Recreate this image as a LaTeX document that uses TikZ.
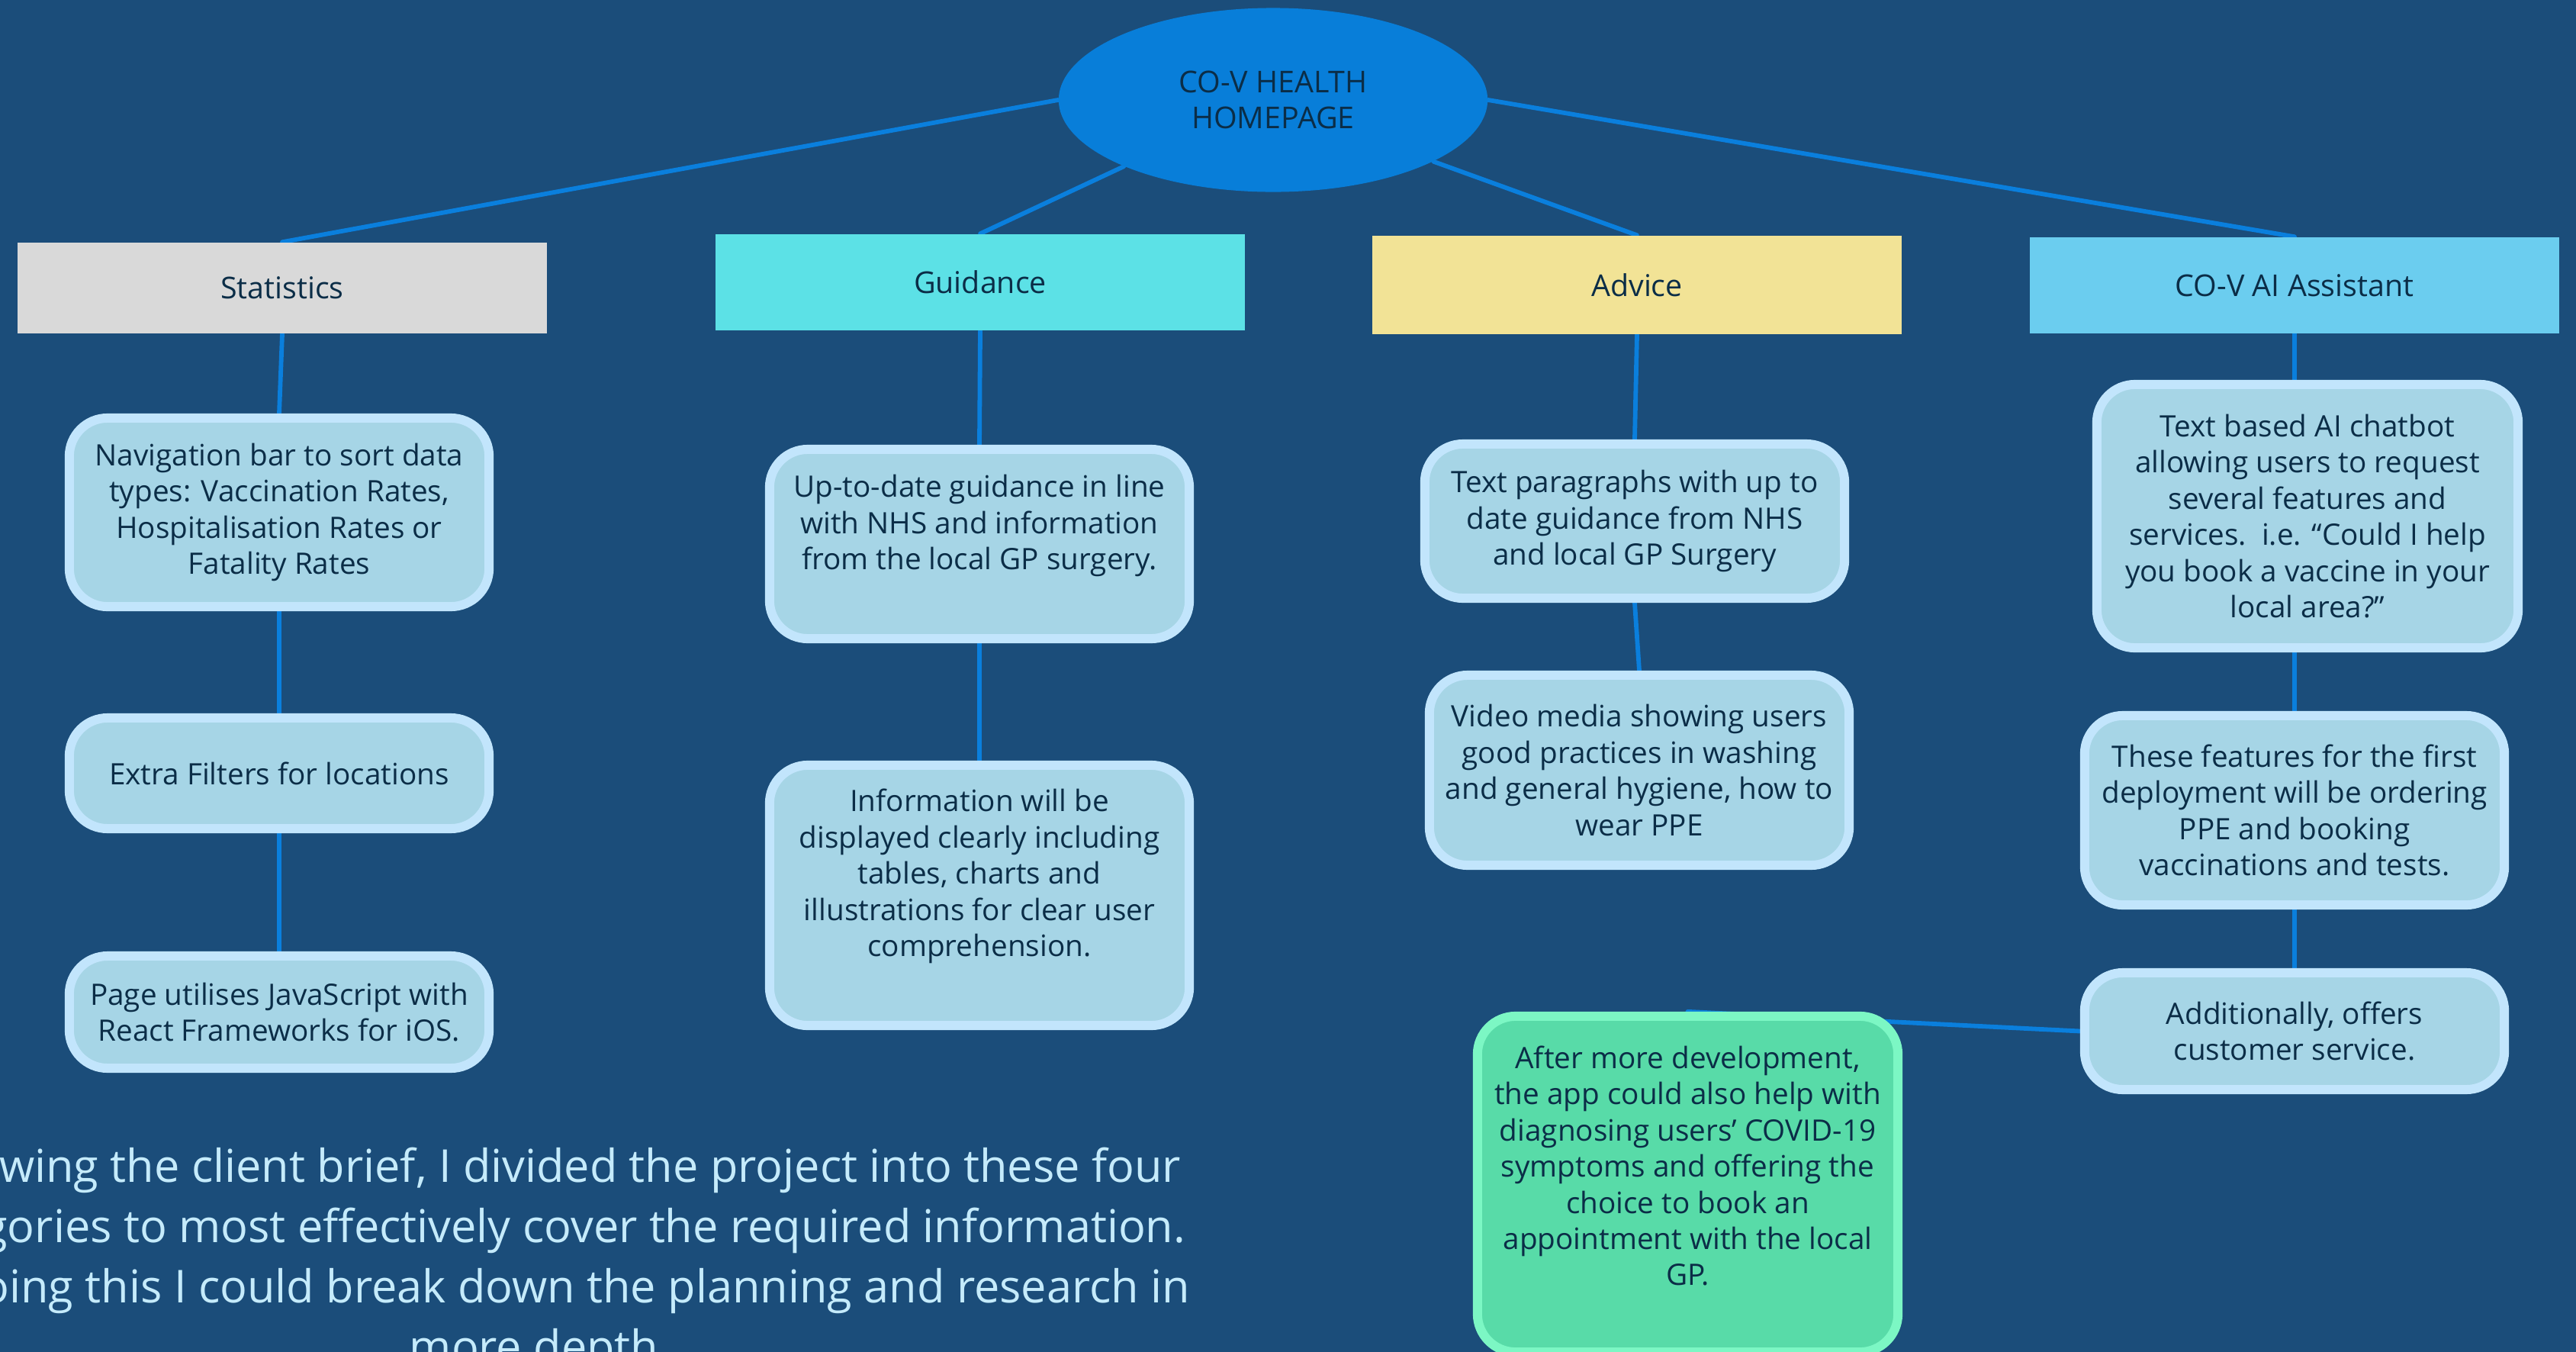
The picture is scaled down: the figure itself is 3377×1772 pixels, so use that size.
\documentclass[tikz,border=0pt]{standalone}
\usepackage{fontspec}
\setmainfont{Open Sans}
\usetikzlibrary{shapes.geometric,calc}
\definecolor{bgc}{HTML}{1B4D7A}
\definecolor{ellfill}{HTML}{087ED9}
\definecolor{linec}{HTML}{0A7FDD}
\definecolor{ink}{HTML}{0B2D47}
\definecolor{statc}{HTML}{D9D9D9}
\definecolor{guidc}{HTML}{5CE1E6}
\definecolor{advc}{HTML}{F2E396}
\definecolor{aic}{HTML}{6BCDEF}
\definecolor{cfill}{HTML}{A6D5E6}
\definecolor{cbord}{HTML}{C2E5FC}
\definecolor{gfill}{HTML}{58DBA8}
\definecolor{gbord}{HTML}{7CF7C4}
\definecolor{btc}{HTML}{C5EBFB}
\pgfdeclarelayer{bgl}
\pgfdeclarelayer{lines}
\pgfsetlayers{bgl,lines,main}
\begin{document}
\begin{tikzpicture}[x=0.01cm,y=-0.01cm,
  head/.style={rectangle, inner sep=0, minimum width=6.94cm, text=ink,
    font=\fontsize{11.2}{13.5}\selectfont},
  cbox/.style={rectangle, rounded corners=0.5cm, draw=cbord, fill=cfill,
    line width=0.12cm, inner sep=0, text=ink, align=center,
    minimum width=5.50cm, font=\fontsize{11}{13.5}\selectfont},
  gbox/.style={cbox, draw=gbord, fill=gfill},
  btext/.style={text=ink, align=center, inner sep=0, font=\fontsize{11}{13.5}\selectfont},
  conn/.style={line width=0.058cm, draw=linec, line cap=round},
  para/.style={text=btc, inner sep=0, font=\fontsize{16.9}{22.5}\selectfont}
]
\begin{pgfonlayer}{bgl}
\fill[bgc] (0,0) rectangle (3377,1772);
\end{pgfonlayer}
\useasboundingbox (0,0) rectangle (3377,1772);
\clip (0,0) rectangle (3377,1772);

% root
\node[ellipse, fill=ellfill, minimum width=5.62cm, minimum height=2.41cm,
  inner sep=0, align=center, text=ink, font=\fontsize{11.2}{13.4}\selectfont]
  (home) at (1669,131) {CO-V HEALTH\\HOMEPAGE};

% headers
\node[head, fill=statc, minimum height=1.19cm] (stat) at (370,377.5) {Statistics};
\node[head, fill=guidc, minimum height=1.26cm] (guid) at (1285,370) {Guidance};
\node[head, fill=advc, minimum height=1.29cm] (adv) at (2146,373.5) {Advice};
\node[head, fill=aic, minimum height=1.26cm] (aih) at (3008,374) {CO-V AI Assistant};

% statistics column
\node[cbox, minimum height=2.47cm] (s1) at (366,671.5)
  {Navigation bar to sort data\\types: Vaccination Rates,\\Hospitalisation Rates or\\Fatality Rates};
\node[cbox, minimum height=1.45cm] (s2) at (366,1013.5) {Extra Filters for locations};
\node[cbox, minimum height=1.47cm] (s3) at (366,1326.5)
  {Page utilises JavaScript with\\React Frameworks for iOS.};

% guidance column
\node[cbox, minimum height=2.48cm] (g1) at (1284,713) {};
\node[btext] (g1t) at ([yshift=0.24cm]g1.center)
  {Up-to-date guidance in line\\with NHS and information\\from the local GP surgery.};
\node[cbox, minimum height=3.41cm] (g2) at (1284,1173.5) {};
\node[btext] (g2t) at ([yshift=0.25cm]g2.center)
  {Information will be\\displayed clearly including\\tables, charts and\\illustrations for clear user\\comprehension.};

% advice column
\node[cbox, minimum height=2.02cm] (a1) at (2143,683)
  {Text paragraphs with up to\\date guidance from NHS\\and local GP Surgery};
\node[cbox, minimum height=2.49cm] (a2) at (2149,1009.5)
  {Video media showing users\\good practices in washing\\and general hygiene, how to\\wear PPE};

% AI column
\node[cbox, minimum width=5.52cm, minimum height=3.45cm] (c1) at (3025,676.5)
  {Text based AI chatbot\\allowing users to request\\several features and\\services.\ \ i.e. “Could I help\\you book a vaccine in your\\local area?”};
\node[cbox, minimum height=2.48cm] (c2) at (3008,1062)
  {These features for the first\\deployment will be ordering\\PPE and booking\\vaccinations and tests.};
\node[cbox, minimum height=1.53cm] (c3) at (3008,1351.5)
  {Additionally, offers\\customer service.};
\node[gbox, minimum width=5.51cm, minimum height=4.40cm] (gr) at (2212.5,1552) {};
\node[btext] (grt) at ([yshift=0.24cm]gr.center)
  {After more development,\\the app could also help with\\diagnosing users’ COVID-19\\symptoms and offering the\\choice to book an\\appointment with the local\\GP.};

% paragraph
\node[para, anchor=base] (p1) at (708,1549) {Following the client brief, I divided the project into these four};
\node[para, anchor=base] (p2) at (708,1628) {categories to most effectively cover the required information.};
\node[para, anchor=base] (p3) at (708,1707) {By doing this I could break down the planning and research in};
\node[para, anchor=base] (p4) at (708,1786) {more depth.};

% connectors
\begin{pgfonlayer}{lines}
\draw[conn] (home.west) -- (stat.north);
\draw[conn] (home.204) -- (guid.north);
\draw[conn] (home.339.5) -- (adv.north);
\draw[conn] (home.east) -- (aih.north);
\draw[conn] (stat.south) -- (s1.north);
\draw[conn] (s1.south) -- (s2.north);
\draw[conn] (s2.south) -- (s3.north);
\draw[conn] (guid.south) -- (g1.north);
\draw[conn] (g1.south) -- (g2.north);
\draw[conn] (adv.south) -- (a1.north);
\draw[conn] (a1.south) -- (a2.north);
\draw[conn] (aih.south) -- (aih.south |- c1.north);
\draw[conn] (c2.north |- c1.south) -- (c2.north);
\draw[conn] (c2.south) -- (c3.north);
\draw[conn] (c3.west) -- (gr.north);
\end{pgfonlayer}
\end{tikzpicture}
\end{document}
